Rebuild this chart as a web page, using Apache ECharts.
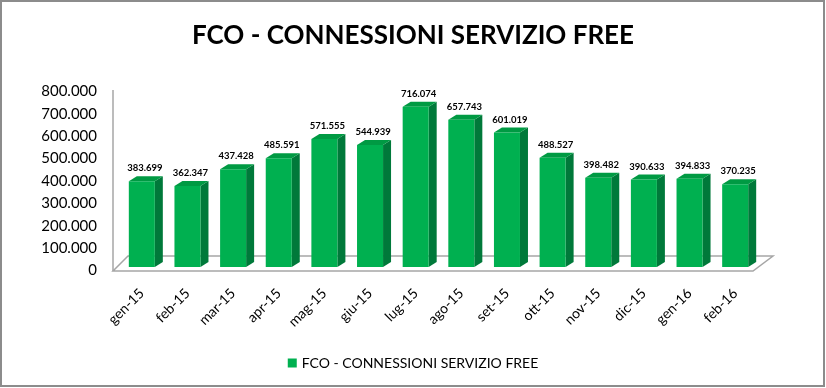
<!DOCTYPE html>
<html>
<head>
<meta charset="utf-8">
<script src="https://cdn.jsdelivr.net/npm/echarts@6/dist/echarts.min.js"></script>
<style>html,body{margin:0;padding:0;background:#fff}#c{width:826px;height:388px}</style>
</head>
<body>
<div id="c"></div>
<script>
const categories = ['gen-15','feb-15','mar-15','apr-15','mag-15','giu-15','lug-15','ago-15','set-15','ott-15','nov-15','dic-15','gen-16','feb-16'];
const values = [383699,362347,437428,485591,571555,544939,716074,657743,601019,488527,398482,390633,394833,370235];
const seriesName = 'FCO - CONNESSIONI SERVIZIO FREE';
const titleText = 'FCO - CONNESSIONI SERVIZIO FREE';

function fmt(v){ return String(Math.round(v)).replace(/\B(?=(\d{3})+(?!\d))/g, '.'); }

const FONT = 'Lato';
const chart = echarts.init(document.getElementById('c'));
chart.setOption({
  animation: false,
  title: { text: titleText, left: 'center', top: 18, textStyle: { fontFamily: FONT, fontWeight: 'bold', fontSize: 26, color: '#000' } },
  legend: { data: [{ name: seriesName, icon: 'rect' }], left: 'center', top: 351, itemWidth: 9, itemHeight: 9, itemGap: 6,
    textStyle: { fontFamily: FONT, fontSize: 14, color: '#000' } },
  grid: { left: 119, right: 68, top: 88, bottom: 121 },
  xAxis: { type: 'category', data: categories, axisLine: { show: false }, axisTick: { show: false },
    axisLabel: { rotate: 45, margin: 24, fontFamily: FONT, fontSize: 14, color: '#000', interval: 0 } },
  yAxis: { type: 'value', min: 0, max: 800000, interval: 100000, splitLine: { show: false }, axisLine: { show: false }, axisTick: { show: false },
    axisLabel: { margin: 22, verticalAlign: 'top', lineHeight: 7, fontFamily: FONT, fontSize: 15, color: '#000', formatter: v => fmt(v) } },
  graphic: [{ type: 'rect', shape: { x: 1, y: 1, width: 823, height: 385 }, style: { fill: 'none', stroke: '#8c8c8c', lineWidth: 2 }, silent: true }],
  series: [
    { type: 'custom', name: 'floor', silent: true, z: 1, legendHoverLink: false,
      data: [[0, 0]],
      renderItem: function (params, api) {
        const cs = params.coordSys;
        const y0 = api.coord([0, 0])[1];
        const yTop = api.coord([0, 800000])[1];
        const fl = cs.x - 6, fr = cs.x + cs.width - 5, fy = y0 + 4, by = y0 - 11;
        return { type: 'group', children: [
          { type: 'polygon', shape: { points: [[fl, fy], [fr, fy], [fr + 20, by], [fl + 15, by]] }, style: { fill: '#fff', stroke: '#a6a6a6', lineWidth: 1.5 } },
          { type: 'line', shape: { x1: fl, y1: fy, x2: fl, y2: yTop + 2 }, style: { stroke: '#a6a6a6', lineWidth: 1.5 } }
        ] };
      }
    },
    { type: 'custom', name: seriesName, z: 2,
      itemStyle: { color: '#00B050' },
      data: values.map((v, i) => [i, v]),
      encode: { x: 0, y: 1 },
      renderItem: function (params, api) {
        const x = api.value(0), v = api.value(1);
        const top = api.coord([x, v]);
        const base = api.coord([x, 0]);
        const bw = api.size([1, 0])[0] * 0.57;
        const dx = 8, dy = -5;
        const l = top[0] - bw / 2, r = top[0] + bw / 2, t = top[1], b = base[1];
        return { type: 'group', children: [
          { type: 'polygon', shape: { points: [[r, t], [r + dx, t + dy], [r + dx, b + dy], [r, b]] }, style: { fill: '#00793A' } },
          { type: 'polygon', shape: { points: [[l, t], [l + dx, t + dy], [r + dx, t + dy], [r, t]] }, style: { fill: '#009A43' } },
          { type: 'rect', shape: { x: l, y: t, width: bw, height: b - t }, style: { fill: '#00B050' } },
          { type: 'text', style: { x: top[0] + dx / 2 - 1, y: t + dy - 3, text: fmt(v), textAlign: 'center', textVerticalAlign: 'bottom',
            fontFamily: FONT, fontWeight: 'bold', fontSize: 9.5, fill: '#000' } }
        ] };
      }
    }
  ]
});
</script>
</body>
</html>
